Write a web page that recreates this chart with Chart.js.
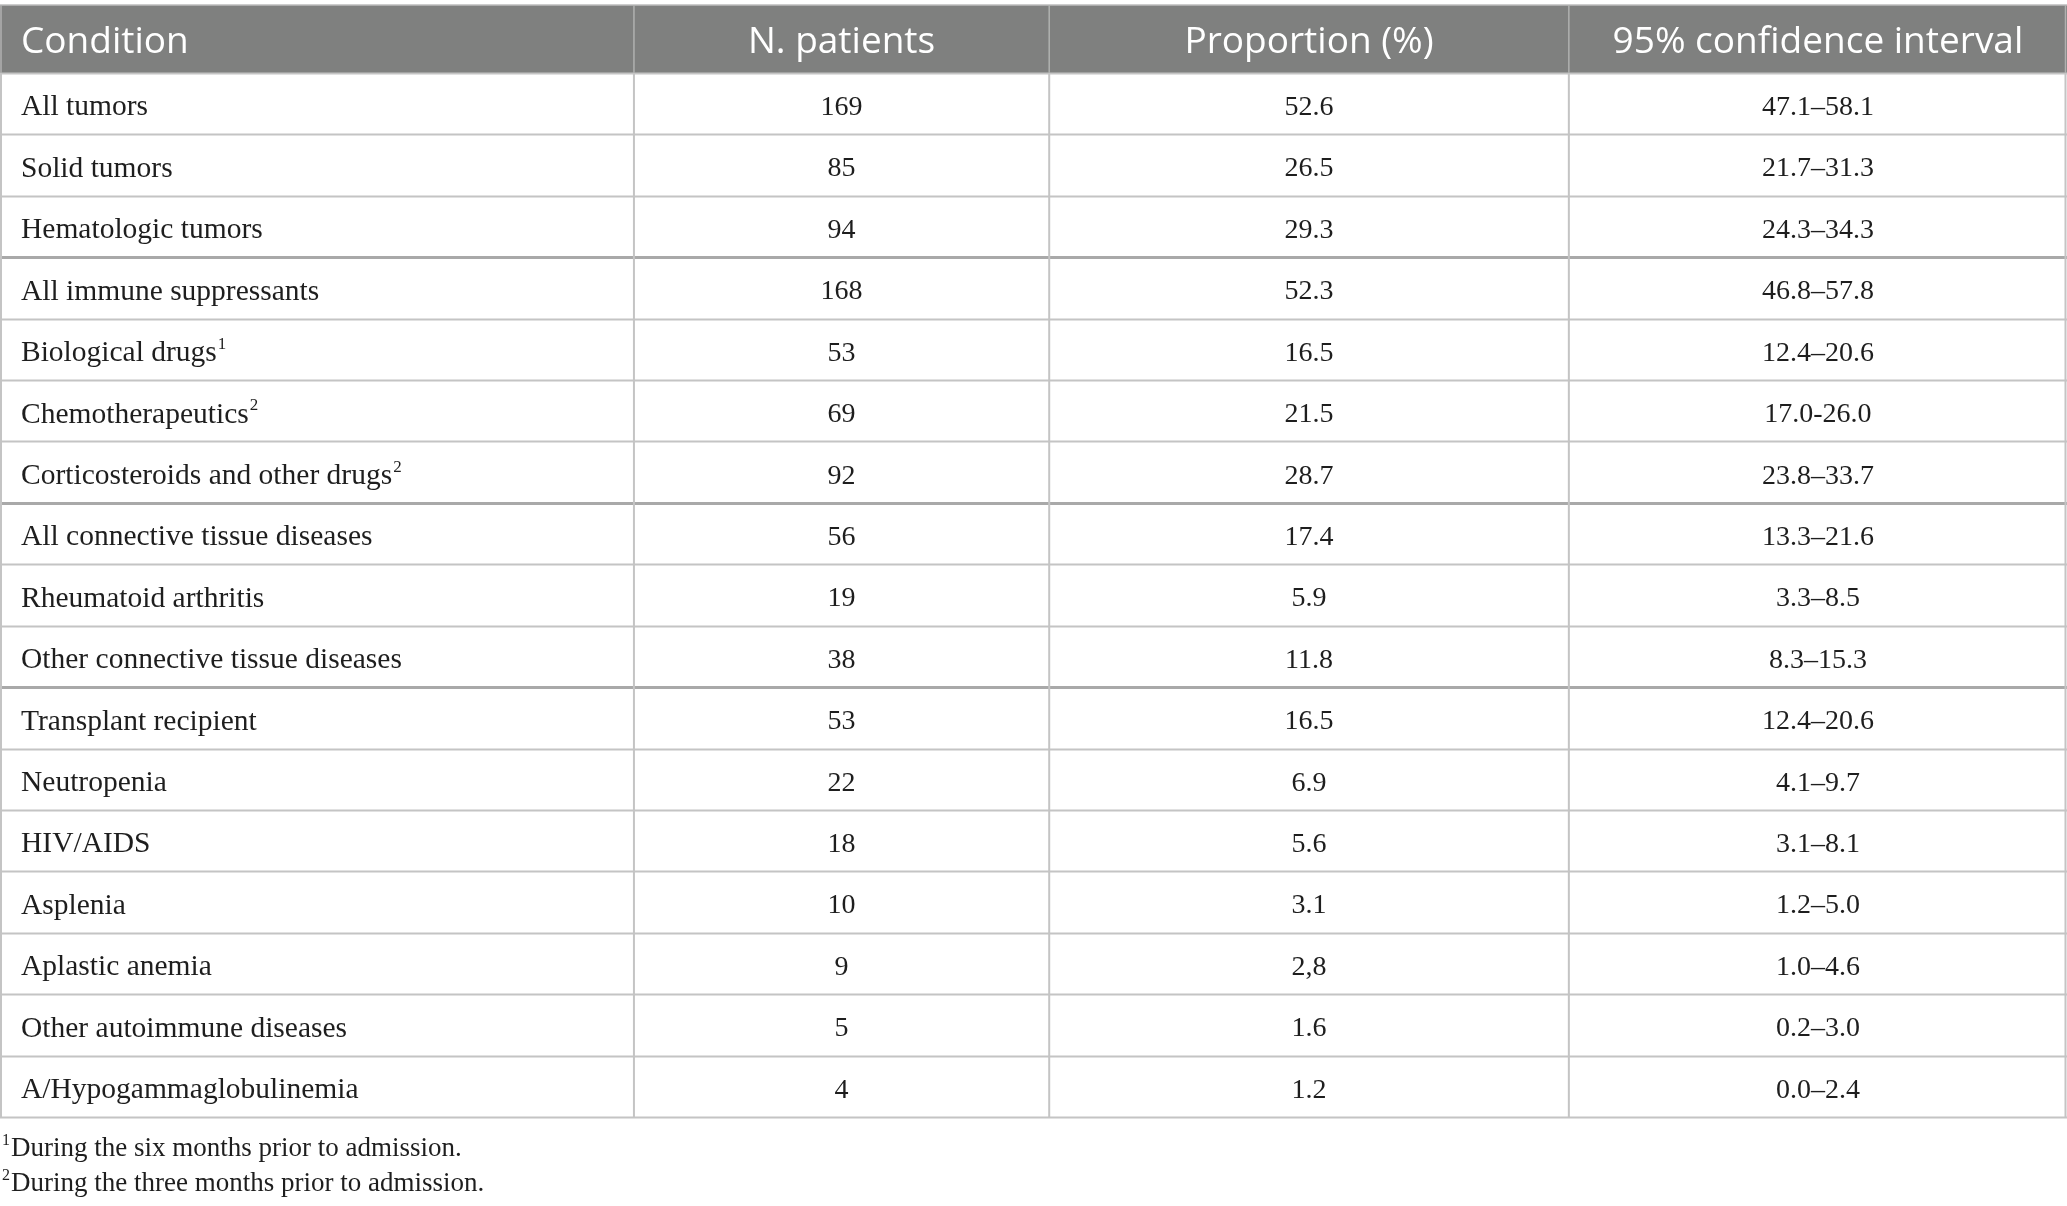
<!DOCTYPE html>
<html>
<head>
<meta charset="utf-8">
<script src="https://cdn.jsdelivr.net/npm/chart.js@4.4.1/dist/chart.umd.min.js"></script>
<style>
  html, body { margin: 0; padding: 0; background: #fff; }
  #wrap { width: 2067px; height: 1206px; }
</style>
</head>
<body>
<div id="wrap"><canvas id="table"></canvas></div>
<script>
// table content
const headers = ["Condition", "N. patients", "Proportion (%)", "95% confidence interval"]
const conditions = [
  "All tumors", "Solid tumors", "Hematologic tumors",
  "All immune suppressants", "Biological drugs", "Chemotherapeutics", "Corticosteroids and other drugs",
  "All connective tissue diseases", "Rheumatoid arthritis", "Other connective tissue diseases",
  "Transplant recipient", "Neutropenia", "HIV/AIDS", "Asplenia", "Aplastic anemia",
  "Other autoimmune diseases", "A/Hypogammaglobulinemia"
]
const noteMarks = ["", "", "", "", "1", "2", "2", "", "", "", "", "", "", "", "", "", ""]
const patients = [169, 85, 94, 168, 53, 69, 92, 56, 19, 38, 53, 22, 18, 10, 9, 5, 4]
const proportions = ["52.6", "26.5", "29.3", "52.3", "16.5", "21.5", "28.7", "17.4", "5.9", "11.8",
  "16.5", "6.9", "5.6", "3.1", "2,8", "1.6", "1.2"]
const intervals = ["47.1–58.1", "21.7–31.3", "24.3–34.3", "46.8–57.8", "12.4–20.6", "17.0-26.0",
  "23.8–33.7", "13.3–21.6", "3.3–8.5", "8.3–15.3", "12.4–20.6", "4.1–9.7", "3.1–8.1", "1.2–5.0",
  "1.0–4.6", "0.2–3.0", "0.0–2.4"]
const groupEnds = [3, 7, 10]
const footnotes = [["1", "During the six months prior to admission."], ["2", "During the three months prior to admission."]]

// layout (x scale runs 0..100)
const colEdges = [0, 30.67, 50.76, 75.9, 100]
const headTop = 5
const headH = 68
const bottomPad = 89

const serif = "'Liberation Serif', 'DejaVu Serif', serif"
const sans = "'Open Sans', 'Noto Sans', sans-serif"

const tablePlugin = {
  id: "tablePlugin",
  afterDraw(chart) {
    const { ctx } = chart
    const x = chart.scales.x
    const y = chart.scales.y
    const left = x.getPixelForValue(0)
    const right = x.getPixelForValue(100)
    const top = y.getPixelForValue(0)
    const bottom = y.getPixelForValue(conditions.length)
    ctx.save()

    // header band
    ctx.fillStyle = "#7f807f"
    ctx.fillRect(left, headTop, right - left, top - headTop)
    ctx.strokeStyle = "#bdbdbd"
    ctx.lineWidth = 1.5
    ctx.beginPath()
    ctx.moveTo(left, headTop); ctx.lineTo(right, headTop)
    ctx.stroke()

    // row lines
    for (let i = 0; i <= conditions.length; i++) {
      const py = Math.round(y.getPixelForValue(i)) + 0.5
      const thick = groupEnds.includes(i)
      ctx.strokeStyle = thick ? "#a9a9a9" : "#c4c4c4"
      ctx.lineWidth = thick ? 3 : 2
      ctx.beginPath()
      ctx.moveTo(left, py); ctx.lineTo(right, py)
      ctx.stroke()
    }

    // column lines
    colEdges.forEach((e, k) => {
      let px = x.getPixelForValue(e)
      if (k === 0) px = left + 1
      if (k === colEdges.length - 1) px = right - 1.5
      ctx.strokeStyle = "#b0b1b0"
      ctx.lineWidth = 1.5
      ctx.beginPath()
      ctx.moveTo(px, headTop); ctx.lineTo(px, top)
      ctx.stroke()
      ctx.strokeStyle = "#c4c4c4"
      ctx.lineWidth = 2
      ctx.beginPath()
      ctx.moveTo(px, top); ctx.lineTo(px, bottom)
      ctx.stroke()
    })

    // header text
    ctx.fillStyle = "#ffffff"
    ctx.font = "37px " + sans
    ctx.textBaseline = "middle"
    const hy = (headTop + top) / 2 + 3
    headers.forEach((h, k) => {
      if (k === 0) {
        ctx.textAlign = "left"
        ctx.fillText(h, x.getPixelForValue(colEdges[0]) + 21, hy)
      } else {
        ctx.textAlign = "center"
        ctx.fillText(h, x.getPixelForValue((colEdges[k] + colEdges[k + 1]) / 2), hy)
      }
    })

    // body text
    ctx.fillStyle = "#1e1e1e"
    for (let i = 0; i < conditions.length; i++) {
      const cy = y.getPixelForValue(i + 0.5) + 4
      ctx.font = "29.5px " + serif
      ctx.textAlign = "left"
      const lx = x.getPixelForValue(colEdges[0]) + 21
      ctx.fillText(conditions[i], lx, cy)
      if (noteMarks[i]) {
        const w = ctx.measureText(conditions[i]).width
        ctx.font = "17px " + serif
        ctx.fillText(noteMarks[i], lx + w + 1, cy - 9)
      }
      ctx.font = "28px " + serif
      ctx.textAlign = "center"
      const cells = [String(patients[i]), proportions[i], intervals[i]]
      cells.forEach((c, k) => {
        ctx.fillText(c, x.getPixelForValue((colEdges[k + 1] + colEdges[k + 2]) / 2), cy)
      })
    }

    // footnotes
    ctx.textAlign = "left"
    footnotes.forEach(([mark, text], k) => {
      const fy = bottom + 32 + k * 35
      ctx.font = "16px " + serif
      ctx.fillText(mark, left + 2, fy - 8)
      const mw = ctx.measureText(mark).width
      ctx.font = "27px " + serif
      ctx.fillText(text, left + 2 + mw + 1, fy)
    })
    ctx.restore()
  }
}

new Chart(document.getElementById("table"), {
  type: "scatter",
  data: { datasets: [{ data: [], pointRadius: 0 }] },
  options: {
    responsive: true,
    maintainAspectRatio: false,
    animation: false,
    devicePixelRatio: 1,
    layout: { padding: { top: headTop + headH, bottom: bottomPad, left: 0, right: 0 } },
    plugins: { legend: { display: false }, tooltip: { enabled: false } },
    scales: {
      x: { type: "linear", min: 0, max: 100, display: false },
      y: { type: "linear", min: 0, max: conditions.length, reverse: true, display: false }
    }
  },
  plugins: [tablePlugin]
})
</script>
</body>
</html>
